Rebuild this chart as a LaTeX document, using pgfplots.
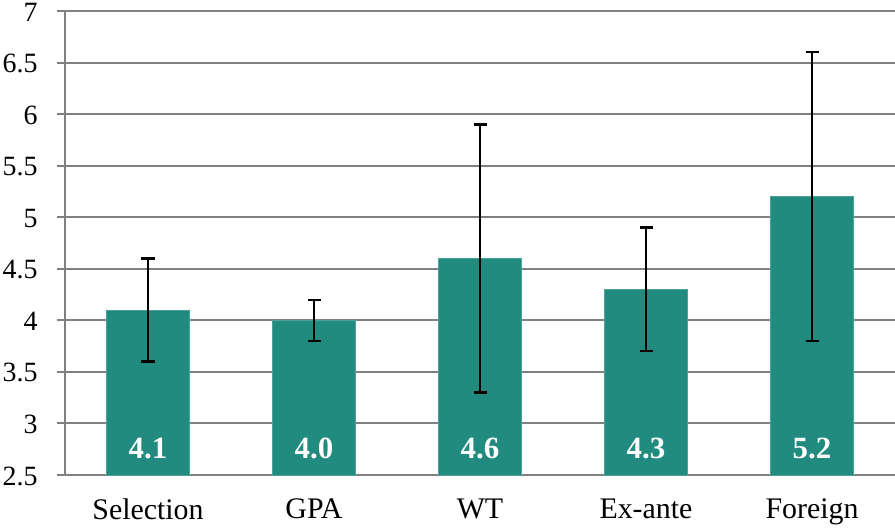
\documentclass[border=0pt]{standalone}
\usepackage{pgfplots}
\usepackage{pgfplotstable}
\pgfplotsset{compat=1.18}
\usepackage{fontspec}
\setmainfont{Liberation Serif}
\definecolor{barteal}{RGB}{32,139,126}
\definecolor{gridgray}{RGB}{128,128,128}

\pgfplotstableread{
x  mean  lo   hi
0  4.1   3.6  4.6
1  4.0   3.8  4.2
2  4.6   3.3  5.9
3  4.3   3.7  4.9
4  5.2   3.8  6.6
}\scores

\begin{document}
\begin{tikzpicture}
\path[use as bounding box] (-65bp,-53bp) rectangle (830bp,475bp);
\begin{axis}[
  scale only axis,
  width=830bp, height=464bp,
  xmin=-0.5, xmax=4.5,
  ymin=2.5, ymax=7,
  ytick={2.5,3,...,7},
  yticklabels={2.5,3,3.5,4,4.5,5,5.5,6,6.5,7},
  xtick={0,1,2,3,4},
  xticklabels={Selection,GPA,WT,Ex-ante,Foreign},
  major x tick style={draw=none},
  extra x ticks={-0.5,0.5,1.5,2.5,3.5,4.5},
  extra x tick labels={},
  extra x tick style={major tick length=10bp, tick align=outside, tick style={gridgray, line width=2pt}, grid=none},
  axis x line*=bottom, axis y line*=left,
  axis line style={gridgray, line width=2pt, -},
  ymajorgrids, grid style={gridgray, line width=2pt},
  tick align=outside, major tick length=8bp,
  ytick style={gridgray, line width=2pt},
  /pgf/number format/assume math mode=true,
  yticklabel style={font=\fontsize{28}{32}\selectfont, anchor=east, xshift=-16bp, yshift=-1bp},
  xticklabel style={font=\fontsize{30}{34}\selectfont, yshift=-12bp},
  bar width=0.5,
  clip=false,
]
\addplot[ybar, fill=barteal, draw=barteal!80!white, line width=0.6pt, bar shift=0pt,
  error bars/.cd, y dir=both, y explicit,
  error bar style={black, line width=2.4pt},
  error mark options={rotate=90, mark size=6.5bp, black, line width=2.4pt}]
  table[x=x, y=mean, y error plus expr=\thisrow{hi}-\thisrow{mean}, y error minus expr=\thisrow{mean}-\thisrow{lo}] {\scores};
\addplot[draw=none, mark=none, nodes near coords, point meta=explicit symbolic,
  nodes near coords style={white, font=\fontsize{31}{35}\selectfont\bfseries, anchor=center}]
  table[x=x, y=y, meta=lab] {
x  y     lab
0  2.76  4.1
1  2.76  4.0
2  2.76  4.6
3  2.76  4.3
4  2.76  5.2
};
\end{axis}
\end{tikzpicture}
\end{document}
